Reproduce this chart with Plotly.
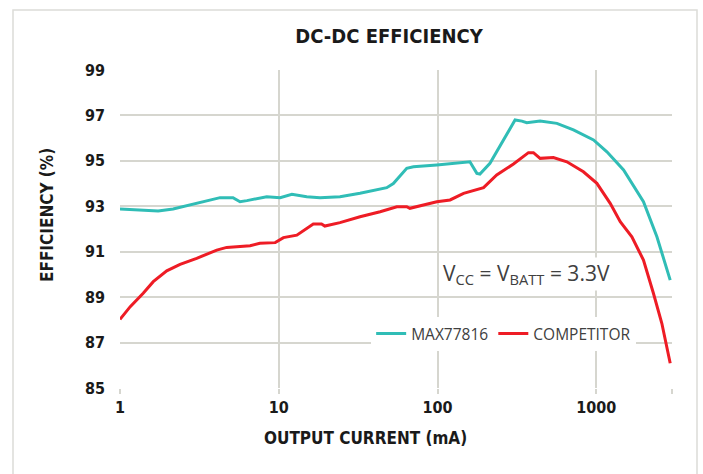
import plotly.graph_objects as go

# MAX77816 (teal)
max_x = [1.0, 1.47, 1.74, 2.16, 3.04, 4.27, 5.15, 5.7, 6.3, 8.4, 10.2, 12.1, 15, 18.2, 24.3, 32.5,
         47.9, 52.7, 64, 70.5, 99, 153, 160, 177, 185, 214, 260, 308, 340, 365, 443, 565, 718,
         961, 1167, 1486, 1983, 2410, 2923]
max_y = [92.88, 92.81, 92.79, 92.88, 93.13, 93.38, 93.38, 93.2, 93.25, 93.42, 93.38, 93.53, 93.42,
         93.38, 93.42, 93.57, 93.82, 94.0, 94.67, 94.74, 94.82, 94.96, 94.96, 94.45, 94.42, 94.89,
         95.92, 96.8, 96.75, 96.68, 96.75, 96.65, 96.36, 95.92, 95.4, 94.6, 93.2, 91.66, 89.75]

# COMPETITOR (red)
comp_x = [1.0, 1.16, 1.40, 1.62, 1.97, 2.39, 3.04, 4.07, 4.7, 6.6, 7.6, 9.5, 10.7, 13, 16.5, 18.6,
          19.5, 24.3, 32.5, 43.5, 55.4, 64, 67, 99, 120, 146, 195, 236, 301, 374, 402, 443, 537,
          653, 830, 1009, 1224, 1416, 1676, 1983, 2291, 2588, 2923]
comp_y = [88.02, 88.58, 89.17, 89.68, 90.16, 90.44, 90.71, 91.07, 91.19, 91.26, 91.37, 91.40, 91.62,
          91.73, 92.22, 92.22, 92.13, 92.28, 92.54, 92.76, 92.98, 92.98, 92.91, 93.20, 93.28, 93.57,
          93.82, 94.38, 94.86, 95.36, 95.36, 95.11, 95.15, 94.96, 94.52, 94.01, 93.13, 92.32, 91.66,
          90.63, 89.17, 87.85, 86.09]

x_tickvals = [1, 10, 100, 1000, 3000]
x_ticktext = ["1", "10", "100", "1000", " "]
y_tickvals = [85, 87, 89, 91, 93, 95, 97, 99]

BOLD = "Liberation Sans Narrow, DejaVu Sans Condensed, Arial Narrow, Roboto, sans-serif"
LIGHT = "Open Sans, Lato, sans-serif"
GRID = "#d6d6cf"
DARK = "#1a1a1a"

fig = go.Figure()
fig.add_trace(go.Scatter(x=max_x, y=max_y, mode="lines", name="MAX77816",
                         line=dict(color="#30bdb6", width=3)))
fig.add_trace(go.Scatter(x=comp_x, y=comp_y, mode="lines", name="COMPETITOR",
                         line=dict(color="#ee1c25", width=3)))

fig.update_layout(
    width=703, height=474,
    margin=dict(l=120, r=31, t=70, b=86),
    paper_bgcolor="white", plot_bgcolor="white",
    showlegend=True,
    legend=dict(orientation="h", x=0.455, y=0.17, xanchor="left", yanchor="middle",
                bgcolor="white", font=dict(family=LIGHT, size=15.5, color="#404040"),
                itemwidth=30, tracegroupgap=0),
    title=dict(text="<b>DC-DC EFFICIENCY</b>", x=389 / 703, xanchor="center",
               y=1 - 36 / 474, yanchor="middle",
               font=dict(family=BOLD, size=20, color=DARK)),
)

fig.update_xaxes(type="log", range=[0, 3.4771], tickvals=x_tickvals, ticktext=x_ticktext,
                 showgrid=True, gridcolor=GRID, gridwidth=1.5, zeroline=False,
                 showline=False, ticks="outside", ticklen=5, tickcolor=GRID, tickwidth=1.5,
                 tickfont=dict(family=BOLD, size=16, color=DARK, weight="bold"))
fig.update_yaxes(range=[85, 99], tickvals=y_tickvals,
                 showgrid=True, gridcolor=GRID, gridwidth=1.5, zeroline=False,
                 showline=False, ticks="", ticklabelstandoff=14,
                 tickfont=dict(family=BOLD, size=16, color=DARK, weight="bold"))

# axis titles as annotations
fig.add_annotation(text="<b>OUTPUT CURRENT (mA)</b>", xref="paper", yref="paper",
                   x=(365 - 120) / 552, y=(388 - 438) / 318, xanchor="center", yanchor="middle",
                   showarrow=False, font=dict(family=BOLD, size=17, color=DARK))
fig.add_annotation(text="<b>EFFICIENCY (%)</b>", xref="paper", yref="paper",
                   x=(47 - 120) / 552, y=(388 - 215) / 318, xanchor="center", yanchor="middle",
                   showarrow=False, textangle=-90,
                   font=dict(family=BOLD, size=17, color=DARK))
fig.add_annotation(text="V<sub>CC</sub> = V<sub>BATT</sub> = 3.3V", xref="paper", yref="paper",
                   x=(526 - 120) / 552, y=(388 - 274) / 318, xanchor="center", yanchor="middle",
                   showarrow=False, bgcolor="white",
                   font=dict(family=LIGHT, size=21, color="#404040"))

# outer frame
fig.add_shape(type="rect", xref="paper", yref="paper",
              x0=(13 - 120) / 552, x1=(697 - 120) / 552,
              y0=(388 - 490) / 318, y1=(388 - 10) / 318,
              line=dict(color="#dcdcd8", width=1.5), fillcolor="rgba(0,0,0,0)", layer="below")

fig.write_html("out.html", config={"displayModeBar": False},
               post_script="document.body.style.margin='0';document.body.style.padding='0';")
